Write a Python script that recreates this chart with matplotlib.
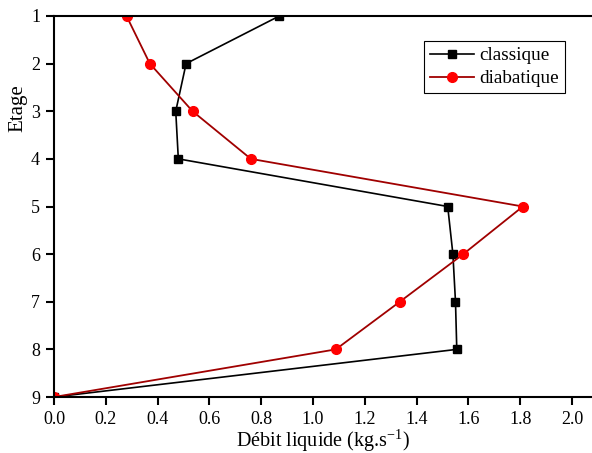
import matplotlib
matplotlib.use('Agg')
import matplotlib.pyplot as plt
import numpy as np

font = {'family': 'Liberation Serif',
        'weight': 'normal',
        'size': 13}
plt.rc('font', **font)
plt.rcParams['mathtext.fontset'] = 'custom'
plt.rcParams['mathtext.rm'] = 'Liberation Serif'
plt.rcParams['mathtext.it'] = 'Liberation Serif:italic'

etage = np.array([1, 2, 3, 4, 5, 6, 7, 8, 9])
classique = np.array([0.87, 0.51, 0.47, 0.48, 1.52, 1.54, 1.55, 1.555, 0.0])
diabatique = np.array([0.28, 0.37, 0.535, 0.76, 1.81, 1.58, 1.335, 1.088, 0.0])

fig = plt.figure(figsize=(5.92, 4.53), dpi=100)
ax = fig.add_axes([0.0912, 0.1236, 0.9088, 0.8411])

ax.plot(classique, etage, color='black', lw=1.2, marker='s', ms=5.5,
        mfc='black', mec='black', label='classique')
ax.plot(diabatique, etage, color='#a00000', lw=1.3, marker='o', ms=7,
        mfc='red', mec='red', label='diabatique')

ax.set_xlim(0, 2.077)
ax.set_ylim(9, 1)
ax.set_xticks(np.arange(0, 2.01, 0.2))
ax.set_xticklabels(['%.1f' % v for v in np.arange(0, 2.01, 0.2)])
ax.set_yticks(etage)

ax.spines['right'].set_visible(False)
for s in ['left', 'bottom', 'top']:
    ax.spines[s].set_linewidth(1.5)
ax.tick_params(direction='out', length=6, width=1.5, labelsize=13, pad=4,
               top=False, right=False)

ax.set_xlabel('Débit liquide (kg.s$^{\\mathregular{-1}}$)', fontsize=14.5, labelpad=0)
ax.set_ylabel('Etage', fontsize=15)
ax.yaxis.set_label_coords(-0.05, 0.759)

leg = ax.legend(loc='upper left', bbox_to_anchor=(0.688, 0.934), borderaxespad=0,
                fancybox=False, edgecolor='black', fontsize=13.8, handlelength=2.3,
                borderpad=0.3, labelspacing=0.3, handletextpad=0.3, framealpha=1)
leg.get_frame().set_linewidth(0.8)

fig.savefig('out.png', dpi=100)
